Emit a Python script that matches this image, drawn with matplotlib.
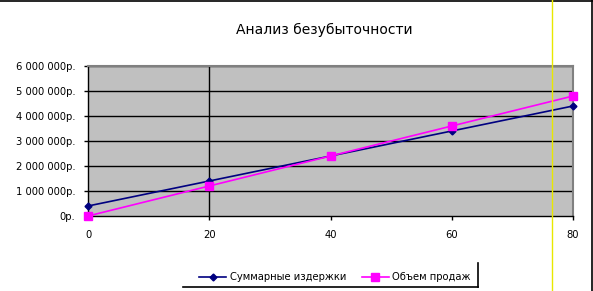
import matplotlib.pyplot as plt
from matplotlib.lines import Line2D
from matplotlib.ticker import FuncFormatter

plt.rcParams['font.family'] = ['DejaVu Sans']

# ---------------------------------------------------------------------------
# Data
# ---------------------------------------------------------------------------
volume = [0, 20, 40, 60, 80]
total_costs = [400000, 1400000, 2400000, 3400000, 4400000]
sales = [0, 1200000, 2400000, 3600000, 4800000]
y_ticks = [0, 1000000, 2000000, 3000000, 4000000, 5000000, 6000000]
x_ticks = [0, 20, 40, 60, 80]


def rub(v, pos=None):
    if v == 0:
        return "0р."
    return f"{int(v):,}".replace(",", " ") + "р."


W, H = 593, 291
fig = plt.figure(figsize=(W / 100, H / 100), dpi=100)
ax = fig.add_axes([88 / W, 1 - 216 / H, (573 - 88) / W, (216 - 66) / H])
ax.set_facecolor("#c0c0c0")

for y in y_ticks[1:]:
    ax.axhline(y, color="black", linewidth=1.0, zorder=1)
ax.axvline(20, color="black", linewidth=1.0, zorder=1)

ax.plot(volume, total_costs, color="#000080", linewidth=1.2, marker="D",
        markersize=3.5, zorder=3, clip_on=False, label="Суммарные издержки")
ax.plot(volume, sales, color="#ff00ff", linewidth=1.2, marker="s",
        markersize=6, zorder=3, clip_on=False, label="Объем продаж")

ax.set_xlim(0, 80)
ax.set_ylim(0, 6000000)
ax.set_xticks(x_ticks)
ax.set_yticks(y_ticks)
ax.yaxis.set_major_formatter(FuncFormatter(rub))
ax.tick_params(axis="both", labelsize=7.2, length=3, width=1, color="black")
ax.tick_params(axis="y", pad=6)
ax.tick_params(axis="x", pad=7)

for side in ["top", "right"]:
    ax.spines[side].set_color("#808080")
    ax.spines[side].set_linewidth(1.5)
for side in ["left", "bottom"]:
    ax.spines[side].set_color("black")
    ax.spines[side].set_linewidth(1.0)

fig.text(324 / W, 1 - 30 / H, "Анализ безубыточности", ha="center",
         va="center", fontsize=10)

# legend with Excel-style shadow border (right and bottom only)
handles = [
    Line2D([], [], color="#000080", marker="D", markersize=3.5, linewidth=1.2),
    Line2D([], [], color="#ff00ff", marker="s", markersize=6, linewidth=1.2),
]
fig.legend(handles, ["Суммарные издержки", "Объем продаж"], ncol=2,
           loc="center", bbox_to_anchor=(335 / W, 1 - 277 / H), frameon=False,
           fontsize=7.2, handlelength=2.7, columnspacing=1.6,
           handletextpad=0.35, borderpad=0, borderaxespad=0)
fig.add_artist(Line2D([183 / W, 478 / W], [1 - 287 / H, 1 - 287 / H],
                      color="black", linewidth=1.2, transform=fig.transFigure))
fig.add_artist(Line2D([478 / W, 478 / W], [1 - 263 / H, 1 - 287 / H],
                      color="black", linewidth=1.2, transform=fig.transFigure))

# outer frame lines and the yellow marker line
fig.add_artist(Line2D([0, 1], [1 - 0.5 / H, 1 - 0.5 / H], color="black",
                      linewidth=1.2, transform=fig.transFigure))
fig.add_artist(Line2D([1 - 1 / W, 1 - 1 / W], [0, 1], color="black",
                      linewidth=1.2, transform=fig.transFigure))
fig.add_artist(Line2D([552 / W, 552 / W], [0, 1], color="#e8e800",
                      linewidth=1.0, transform=fig.transFigure, zorder=10))

fig.savefig("out.png", dpi=100)
